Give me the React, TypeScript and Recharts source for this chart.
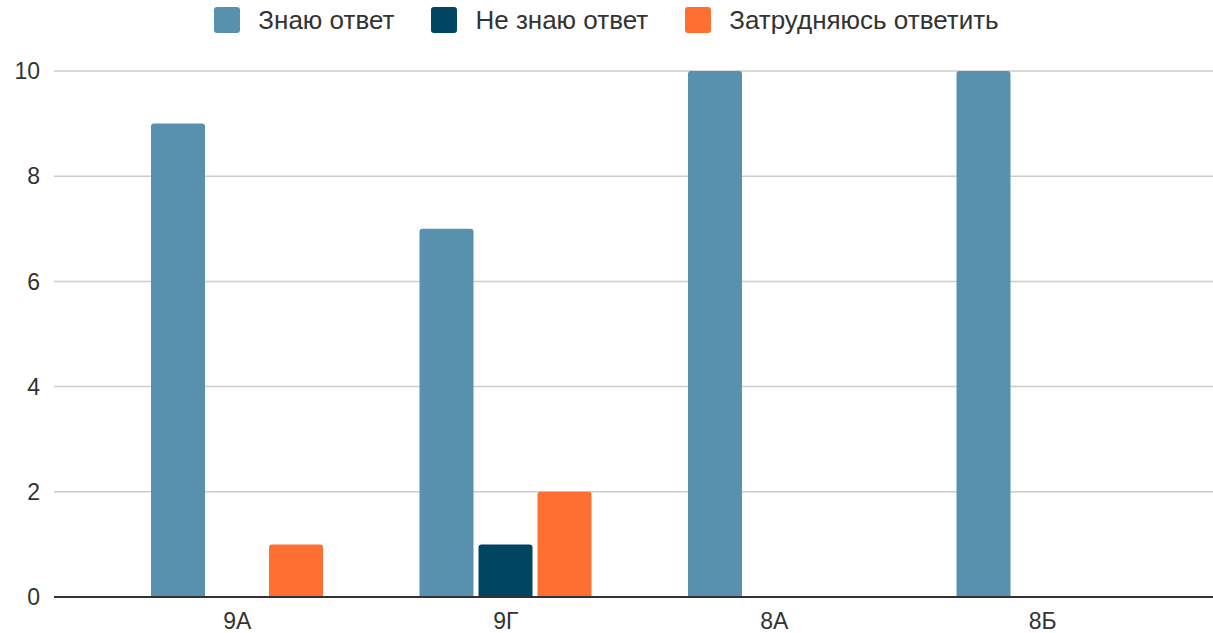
import React from 'react';
import { BarChart, Bar, XAxis, YAxis, CartesianGrid } from 'recharts';

const classes = ['9А', '9Г', '8А', '8Б'];
const knowValues = [9, 7, 10, 10];
const dontKnowValues = [0, 1, 0, 0];
const unsureValues = [1, 2, 0, 0];
const yTicks = [0, 2, 4, 6, 8, 10];

const seriesNames = ['Знаю ответ', 'Не знаю ответ', 'Затрудняюсь ответить'];
const seriesKeys = ['know', 'dontKnow', 'unsure'];
const COLORS = ['#5891AD', '#004561', '#FF6F31'];

const data = classes.map((name, i) => ({
  name,
  know: knowValues[i],
  dontKnow: dontKnowValues[i],
  unsure: unsureValues[i],
}));

const FONT = '"Liberation Sans", Arial, sans-serif';

const ChartLegend: React.FC = () => (
  <div
    style={{
      position: 'absolute',
      top: 0,
      left: 0,
      width: 1213,
      height: 40,
      display: 'flex',
      justifyContent: 'center',
      alignItems: 'center',
      fontFamily: FONT,
      fontSize: 26,
      color: '#333',
    }}
  >
    {seriesNames.map((name, i) => (
      <div key={name} style={{ display: 'flex', alignItems: 'center', marginRight: i < seriesNames.length - 1 ? 37 : 0 }}>
        <span
          style={{
            display: 'inline-block',
            width: 26,
            height: 26,
            borderRadius: 3,
            background: COLORS[i],
            marginRight: 18,
          }}
        />
        <span>{name}</span>
      </div>
    ))}
  </div>
);

export default function App() {
  return (
    <div style={{ position: 'relative', width: 1213, height: 633, background: '#fff' }}>
      <style>{`body{margin:0}`}</style>
      <ChartLegend />
      <BarChart
        width={1213}
        height={633}
        data={data}
        margin={{ top: 71, right: 0, bottom: 0, left: 0 }}
        barGap={5}
        barSize={54}
      >
        <CartesianGrid vertical={false} stroke="#cccccc" strokeWidth={1.5} />
        <XAxis
          dataKey="name"
          height={36}
          padding={{ left: 49, right: 36 }}
          tickLine={false}
          axisLine={{ stroke: '#333', strokeWidth: 2 }}
          tickMargin={10}
          tick={{ fill: '#333', fontSize: 23, fontFamily: FONT }}
        />
        <YAxis
          width={54}
          domain={[0, 10]}
          ticks={yTicks}
          axisLine={false}
          tickLine={false}
          tickMargin={8}
          tick={{ fill: '#333', fontSize: 23, fontFamily: FONT }}
        />
        {seriesKeys.map((key, i) => (
          <Bar
            key={key}
            dataKey={key}
            name={seriesNames[i]}
            fill={COLORS[i]}
            radius={[3, 3, 0, 0]}
            isAnimationActive={false}
          />
        ))}
      </BarChart>
    </div>
  );
}
